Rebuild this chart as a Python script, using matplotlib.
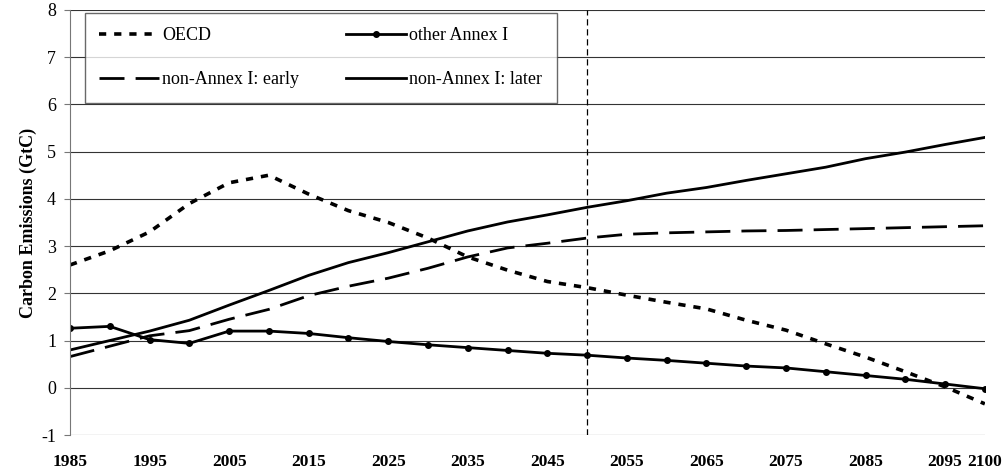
import numpy as np
import matplotlib
matplotlib.use("Agg")
import matplotlib.pyplot as plt

# Regional carbon emission paths, 5-year steps
years = list(range(1985, 2101, 5))

oecd = [2.60, 2.90, 3.30, 3.90, 4.34, 4.50, 4.10, 3.75, 3.50, 3.17, 2.77,
        2.49, 2.25, 2.12, 1.96, 1.81, 1.67, 1.43, 1.22, 0.93, 0.65, 0.34,
        0.02, -0.34]
other_annex1 = [1.26, 1.30, 1.02, 0.94, 1.20, 1.20, 1.15, 1.06, 0.98, 0.91,
                0.85, 0.79, 0.73, 0.69, 0.63, 0.58, 0.52, 0.46, 0.42, 0.34,
                0.26, 0.18, 0.08, -0.02]
non_annex1_early = [0.66, 0.88, 1.10, 1.21, 1.45, 1.66, 1.95, 2.15, 2.32,
                    2.53, 2.77, 2.96, 3.06, 3.17, 3.25, 3.28, 3.30, 3.32,
                    3.33, 3.35, 3.37, 3.39, 3.41, 3.43]
non_annex1_later = [0.80, 1.00, 1.20, 1.43, 1.75, 2.06, 2.38, 2.65, 2.86,
                    3.09, 3.32, 3.51, 3.66, 3.82, 3.96, 4.12, 4.24, 4.39,
                    4.53, 4.67, 4.85, 4.99, 5.15, 5.30]

x_ticks = [1985, 1995, 2005, 2015, 2025, 2035, 2045, 2055, 2065, 2075,
           2085, 2095, 2100]
marker_year = 2050

plt.rcParams["font.family"] = ["Liberation Serif", "DejaVu Serif"]
plt.rcParams["axes.unicode_minus"] = False

fig = plt.figure(figsize=(10.07, 4.71), dpi=100)
ax = fig.add_axes([0.0695, 0.0764, 0.9085, 0.9026])

l_oecd, = ax.plot(years, oecd, color="black", lw=2.6,
                  linestyle=(0, (2.0, 2.2)), label="OECD")
l_other, = ax.plot(years, other_annex1, color="black", lw=2.0, marker="o",
                   markersize=4, label="other Annex I")
l_early, = ax.plot(years, non_annex1_early, color="black", lw=2.0,
                   linestyle=(0, (9, 4)), label="non-Annex I: early")
l_later, = ax.plot(years, non_annex1_later, color="black", lw=2.0,
                   label="non-Annex I: later")

ax.axvline(marker_year, color="black", lw=0.9, linestyle=(0, (5, 3)))

ax.set_xlim(1985, 2100)
ax.set_ylim(-1, 8)
ax.set_xticks(x_ticks)
ax.set_yticks(range(-1, 9))
ax.yaxis.grid(True, color="#333333", lw=0.8)
ax.set_axisbelow(True)

for side in ["top", "right", "bottom"]:
    ax.spines[side].set_visible(False)
ax.spines["left"].set_color("#777777")
ax.tick_params(axis="x", length=0, pad=14, labelsize=12.5)
ax.tick_params(axis="y", length=4, color="#777777", labelsize=13, pad=6)
for lbl in ax.get_xticklabels():
    lbl.set_fontweight("bold")

ax.set_ylabel("Carbon Emissions (GtC)", fontsize=13, fontweight="bold",
              labelpad=3)

# legend fills row by row: OECD / other Annex I, then early / later
leg = ax.legend([l_oecd, l_early, l_other, l_later],
                ["OECD", "non-Annex I: early", "other Annex I",
                 "non-Annex I: later"],
                ncol=2, loc="upper left", bbox_to_anchor=(0.016, 0.993),
                fontsize=13, frameon=True, fancybox=False, edgecolor="#444444",
                handlelength=3.3, handletextpad=0.2, columnspacing=2.6,
                labelspacing=1.5, borderpad=0.8, borderaxespad=0)
leg.get_frame().set_linewidth(1.0)

fig.savefig("out.png", dpi=100)
